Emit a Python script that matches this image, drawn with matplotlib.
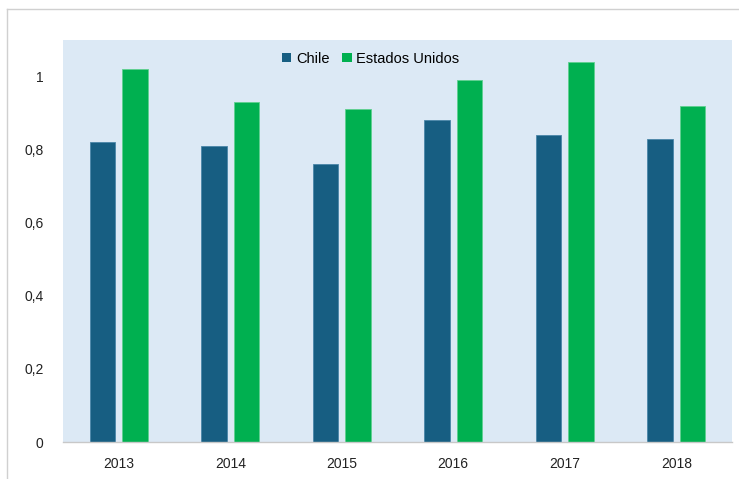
import numpy as np
import matplotlib.pyplot as plt
from matplotlib.patches import Patch
from matplotlib.lines import Line2D

# данные
YEARS = ['2013', '2014', '2015', '2016', '2017', '2018']
CHILE = [0.82, 0.81, 0.76, 0.88, 0.84, 0.83]
USA = [1.02, 0.93, 0.91, 0.99, 1.04, 0.92]
Y_TICKS = [0, 0.2, 0.4, 0.6, 0.8, 1.0]
Y_LABELS = ['0', '0,2', '0,4', '0,6', '0,8', '1']

C_CHILE = '#175e82'
C_USA = '#00b050'
BG = '#dce9f5'

plt.rcParams['font.family'] = ['Liberation Sans', 'DejaVu Sans']

fig = plt.figure(figsize=(7.39, 4.79), dpi=100)
W, H = 739, 479
ax = fig.add_axes([63 / W, 1 - 442 / H, (732 - 63) / W, (442 - 40) / H])
ax.set_facecolor(BG)

x = np.arange(len(YEARS))
bw = 0.23
off = 0.145
ax.bar(x - off, CHILE, bw, color=C_CHILE, edgecolor='#4a86a8', linewidth=0.6, label='Chile')
ax.bar(x + off, USA, bw, color=C_USA, edgecolor='#5fd08f', linewidth=0.6, label='Estados Unidos')

ax.set_xlim(-0.5, len(YEARS) - 0.5)
ax.set_ylim(0, 1.1)
ax.set_xticks(x)
ax.set_xticklabels(YEARS, fontsize=10)
ax.set_yticks(Y_TICKS)
ax.set_yticklabels(Y_LABELS, fontsize=10)
ax.tick_params(axis='both', length=0, colors='#222222')
ax.tick_params(axis='x', pad=11)
ax.tick_params(axis='y', pad=14)

for s in ['top', 'right', 'left']:
    ax.spines[s].set_visible(False)
ax.spines['bottom'].set_color('#c8c8c8')
ax.spines['bottom'].set_linewidth(1.0)

handles = [Patch(facecolor=C_CHILE, edgecolor='none'), Patch(facecolor=C_USA, edgecolor='none')]
ax.legend(handles, ['Chile', 'Estados Unidos'], loc='upper center', bbox_to_anchor=(0.46, 1.0),
          ncol=2, frameon=False, fontsize=10.5, handlelength=0.65, handleheight=0.65,
          handletextpad=0.3, columnspacing=0.9, borderaxespad=0.4)

# рамка рисунка (верх и лево)
fig.add_artist(Line2D([7 / W, 1.0], [1 - 9 / H, 1 - 9 / H], color='#d0d0d0', linewidth=1.0))
fig.add_artist(Line2D([7 / W, 7 / W], [0.0, 1 - 9 / H], color='#d0d0d0', linewidth=1.0))

plt.savefig('out.png', dpi=100)
